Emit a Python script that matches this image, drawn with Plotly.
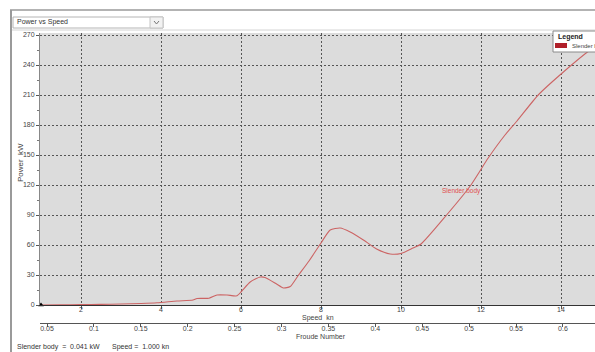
import plotly.graph_objects as go

# Power curve of the slender-body hull
speed_kn = [1.0, 1.5, 2.0, 2.5, 3.0, 3.5, 3.9, 4.4, 4.8, 4.9, 5.2, 5.4, 5.65, 5.9,
            6.02, 6.23, 6.48, 6.6, 6.89, 7.06, 7.23, 7.43, 7.7, 8.0, 8.23, 8.48,
            8.73, 9.06, 9.39, 9.73, 10.0, 10.3, 10.5, 11.14, 11.73, 12.18, 12.6,
            12.9, 13.43, 14.06, 14.73, 14.9]
power_kw = [0.04, 0.15, 0.35, 0.6, 1.0, 1.5, 2.2, 4.0, 5.0, 6.5, 6.8, 10.0, 10.0, 9.2,
            14.0, 23.0, 28.0, 27.5, 21.0, 17.0, 18.5, 29.5, 44.0, 62.0, 75.0, 77.0,
            73.0, 65.0, 56.0, 51.0, 51.5, 57.0, 61.0, 90.0, 119.0, 147.0, 170.0,
            184.0, 210.0, 233.0, 255.0, 259.0]

power_ticks = [0, 30, 60, 90, 120, 150, 180, 210, 240, 270]
speed_ticks = [2, 4, 6, 8, 10, 12, 14]
froude_ticks = [0.05, 0.1, 0.15, 0.2, 0.25, 0.3, 0.35, 0.4, 0.45, 0.5, 0.55, 0.6]
froude_labels = ["0.05", "0.1", "0.15", "0.2", "0.25", "0.3", "0.35", "0.4",
                 "0.45", "0.5", "0.55", "0.6"]

series_name = "Slender body"
cursor_speed = 1.0
cursor_power = 0.041

W, H = 595, 352
ML, MR, MT, MB = 40, 0, 33, 29
PW, PH = W - ML - MR, H - MT - MB


def px(x):
    return (x - ML) / PW


def py(y):
    return (H - MB - y) / PH


FONT = "Liberation Sans"
TXT = "#444444"

fig = go.Figure()

fig.add_trace(go.Scatter(
    x=speed_kn, y=power_kw, mode="lines", name=series_name,
    line=dict(color="#cc6464", width=1.1, shape="spline", smoothing=0.6),
    showlegend=False, hoverinfo="skip"))

# cursor marker at the current readout position
fig.add_trace(go.Scatter(
    x=[cursor_speed], y=[cursor_power], mode="markers",
    marker=dict(symbol="triangle-up", size=5, color="black"),
    showlegend=False, hoverinfo="skip", cliponaxis=False))

# carrier trace for the Froude number axis
fig.add_trace(go.Scatter(
    x=[froude_ticks[0], froude_ticks[-1]], y=[None, None], xaxis="x2",
    mode="lines", showlegend=False, hoverinfo="skip"))

grid = dict(showgrid=True, gridcolor="#555555", gridwidth=1, griddash="2px,2px")

fig.update_layout(
    width=W, height=H,
    margin=dict(l=ML, r=MR, t=MT, b=MB),
    paper_bgcolor="white", plot_bgcolor="#dcdcdc",
    font=dict(family=FONT, size=7, color=TXT),
    xaxis=dict(
        range=[0.975, 14.85], anchor="y", tickvals=speed_ticks,
        ticks="outside", ticklen=3, tickcolor="#555555", ticklabelstandoff=-5,
        showline=True, linecolor="#333333", linewidth=1,
        zeroline=False, tickfont=dict(size=7, color=TXT), **grid),
    yaxis=dict(
        range=[0, 272], domain=[18 / PH, 1], tickvals=power_ticks,
        ticks="outside", ticklen=3, tickcolor="#555555",
        minor=dict(dtick=15, ticks="outside", ticklen=2, tickcolor="#777777",
                   showgrid=False),
        showline=True, linecolor="#888888", linewidth=1,
        zeroline=False, tickfont=dict(size=7, color=TXT), **grid),
    xaxis2=dict(
        range=[0.0425, 0.6342], overlaying="x", anchor="free", position=0,
        side="bottom", tickvals=froude_ticks, ticktext=froude_labels,
        ticks="outside", ticklen=3, tickcolor="#555555", ticklabelstandoff=-4,
        showline=True, linecolor="#555555", linewidth=1,
        showgrid=False, zeroline=False, tickfont=dict(size=7, color=TXT)),
)

shapes = []
ann = []

# window frame
shapes.append(dict(type="line", xref="paper", yref="paper",
                   x0=px(11), x1=px(11), y0=py(10), y1=py(H + 2),
                   line=dict(color="#9a9a9a", width=2)))
shapes.append(dict(type="line", xref="paper", yref="paper",
                   x0=px(10), x1=px(W + 2), y0=py(10), y1=py(10),
                   line=dict(color="#9a9a9a", width=1.5)))
shapes.append(dict(type="line", xref="paper", yref="paper",
                   x0=px(12), x1=px(W + 2), y0=py(30), y1=py(30),
                   line=dict(color="#d4d4d4", width=1)))

# chart selector box
shapes.append(dict(type="rect", xref="paper", yref="paper",
                   x0=px(13), x1=px(163), y0=py(17), y1=py(28),
                   fillcolor="white", line=dict(color="#b4b4b4", width=1)))
shapes.append(dict(type="rect", xref="paper", yref="paper",
                   x0=px(150), x1=px(163), y0=py(17), y1=py(28),
                   fillcolor="#f2f2f2", line=dict(color="#c4c4c4", width=1)))
shapes.append(dict(type="path", xref="paper", yref="paper",
                   path=f"M {px(154)} {py(21)} L {px(156.5)} {py(24)} L {px(159)} {py(21)}",
                   line=dict(color="#777777", width=1)))
ann.append(dict(text="Power vs Speed", xref="paper", yref="paper",
                x=px(15), y=py(22.5), xanchor="left", yanchor="middle",
                showarrow=False, font=dict(size=7, color="#333333")))

# axis titles
ann.append(dict(text="Power  kW", xref="paper", yref="paper",
                x=px(20), y=py(163), textangle=-90, xanchor="center",
                yanchor="middle", showarrow=False, font=dict(size=8, color=TXT)))
ann.append(dict(text="Speed  kn", xref="paper", yref="paper",
                x=px(318), y=py(317.5), xanchor="center", yanchor="middle",
                showarrow=False, font=dict(size=7, color=TXT)))
ann.append(dict(text="Froude Number", xref="paper", yref="paper",
                x=px(321), y=py(336.5), xanchor="center", yanchor="middle",
                showarrow=False, font=dict(size=7, color=TXT)))

# status readout
ann.append(dict(text=f"{series_name}  =  {cursor_power:.3f} kW", xref="paper",
                yref="paper", x=px(15), y=py(347), xanchor="left",
                yanchor="middle", showarrow=False,
                font=dict(size=7, color="#333333")))
ann.append(dict(text=f"Speed =  {cursor_speed:.3f} kn", xref="paper",
                yref="paper", x=px(110), y=py(347), xanchor="left",
                yanchor="middle", showarrow=False,
                font=dict(size=7, color="#333333")))

# in-plot series label
ann.append(dict(text=series_name, x=11.52, y=114, xref="x", yref="y",
                xanchor="center", yanchor="middle", showarrow=False,
                font=dict(size=6.5, color="#e05050")))

# legend box
shapes.append(dict(type="rect", xref="paper", yref="paper",
                   x0=px(553), x1=px(W + 5), y0=py(31), y1=py(52),
                   fillcolor="white", line=dict(color="#8a8a8a", width=1)))
shapes.append(dict(type="rect", xref="paper", yref="paper",
                   x0=px(555), x1=px(567), y0=py(43), y1=py(48),
                   fillcolor="#b0202a", line=dict(width=0)))
ann.append(dict(text="<b>Legend</b>", xref="paper", yref="paper",
                x=px(556), y=py(37.5), xanchor="left", yanchor="middle",
                showarrow=False, font=dict(size=7, color="#222222")))
ann.append(dict(text=series_name, xref="paper", yref="paper",
                x=px(570), y=py(45.5), xanchor="left", yanchor="middle",
                showarrow=False, font=dict(size=6, color="#444444")))

fig.update_layout(shapes=shapes, annotations=ann)

fig.write_html("out.html")
